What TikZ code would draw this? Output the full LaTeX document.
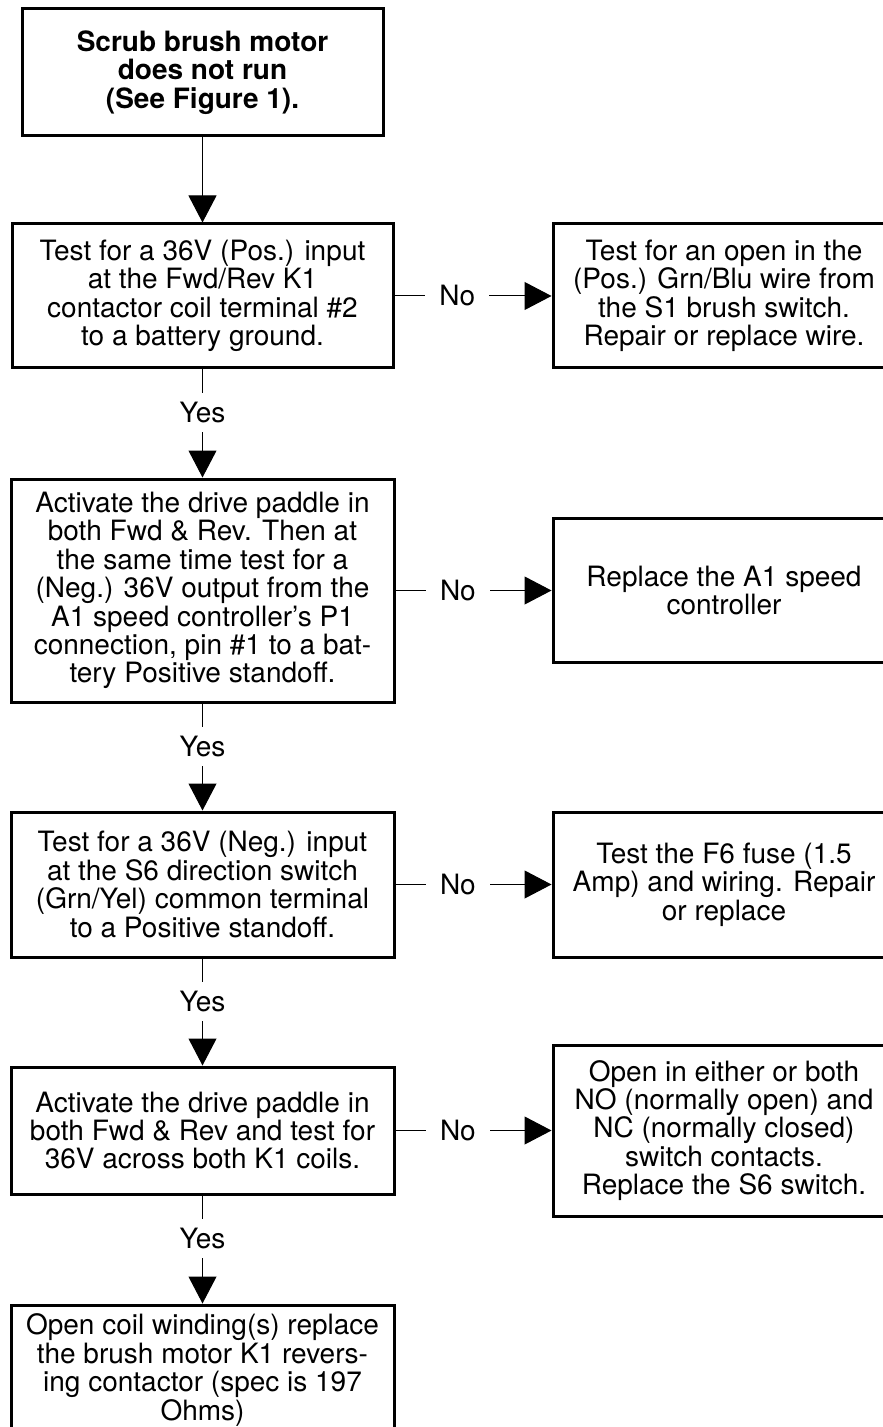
\documentclass[tikz,border=0pt]{standalone}
\usepackage{fontspec}
\setmainfont{TeX Gyre Heros}
\usetikzlibrary{arrows.meta}

\begin{document}
\begin{tikzpicture}[x=0.5pt,y=-0.5pt,line width=0.5pt,
  >={Triangle[width=14pt,length=13.5pt]},
  every node/.style={font=\fontsize{14}{14.2}\selectfont},
  box/.style={shape=rectangle,draw,line width=1.5pt,align=center,inner sep=0pt},
  lbl/.style={fill=white,inner xsep=7pt,inner ysep=4.5pt,pos=0.4}]
\useasboundingbox (0,0) rectangle (882,1427);
\path (202.5,72.5) node (start) [box,minimum width=180.5pt,minimum height=63.5pt,font=\fontsize{14}{14.2}\selectfont\bfseries] {Scrub brush motor\\does not run\\(See Figure 1).};
\path (202.5,296) node (test1) [box,minimum width=190.5pt,minimum height=72pt] {Test for a 36V (Pos.) input\\at the Fwd/Rev K1\\contactor coil terminal \#2\\to a battery ground.};
\path (724,296) node (fix1) [box,minimum width=171pt,minimum height=72pt] {Test for an open in the\\(Pos.) Grn/Blu wire from\\the S1 brush switch.\\Repair or replace wire.};
\path (202.5,590.5) node (test2) [box,minimum width=191.5pt,minimum height=111.5pt] {Activate the drive paddle in\\both Fwd \& Rev. Then at\\the same time test for a\\(Neg.) 36V output from the\\A1 speed controller's P1\\connection, pin \#1 to a bat-\\tery Positive standoff.};
\path (724,590.5) node (fix2) [box,minimum width=171pt,minimum height=72pt] {Replace the A1 speed\\controller};
\path (202.5,884.5) node (test3) [box,minimum width=191.5pt,minimum height=72.5pt] {Test for a 36V (Neg.) input\\at the S6 direction switch\\(Grn/Yel) common terminal\\to a Positive standoff.};
\path (724,884.5) node (fix3) [box,minimum width=171pt,minimum height=72.5pt] {Test the F6 fuse (1.5\\Amp) and wiring. Repair\\or replace};
\path (202.5,1130.5) node (test4) [box,minimum width=191.5pt,minimum height=63.5pt] {Activate the drive paddle in\\both Fwd \& Rev and test for\\36V across both K1 coils.};
\path (724,1130.5) node (fix4) [box,minimum width=171pt,minimum height=85.5pt] {Open in either or both\\NO (normally open) and\\NC (normally closed)\\switch contacts.\\Replace the S6 switch.};
\path (202.5,1370) node (fix5) [box,minimum width=191.5pt,minimum height=65pt] {Open coil winding(s) replace\\the brush motor K1 revers-\\ing contactor (spec is 197\\Ohms)};

\draw [->] (start) to (test1);
\draw [->] (test1) to node [lbl] (yes1) {Yes} (test2);
\draw [->] (test2) to node [lbl] (yes2) {Yes} (test3);
\draw [->] (test3) to node [lbl] (yes3) {Yes} (test4);
\draw [->] (test4) to node [lbl] (yes4) {Yes} (fix5);
\draw [->] (test1) to node [lbl] (no1) {No} (fix1);
\draw [->] (test2) to node [lbl] (no2) {No} (fix2);
\draw [->] (test3) to node [lbl] (no3) {No} (fix3);
\draw [->] (test4) to node [lbl] (no4) {No} (fix4);
\end{tikzpicture}
\end{document}
